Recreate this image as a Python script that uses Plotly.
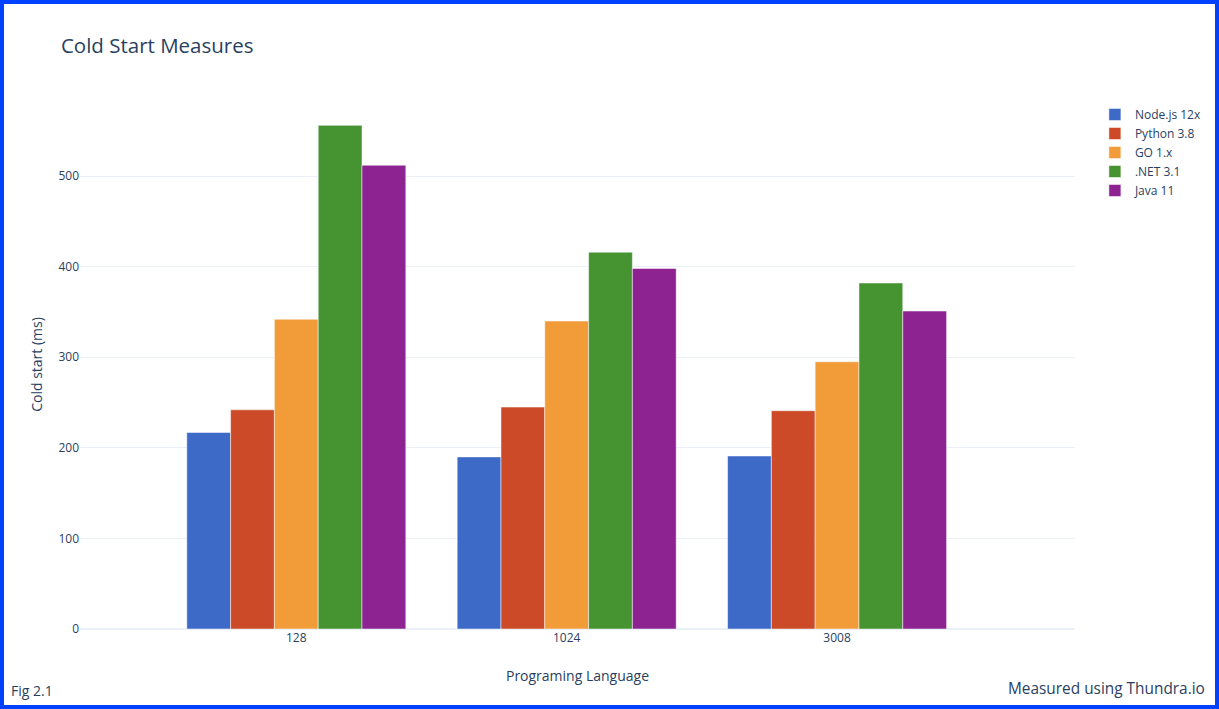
import plotly.graph_objects as go

categories = ["128", "1024", "3008"]
series_names = ["Node.js 12x", "Python 3.8", "GO 1.x", ".NET 3.1", "Java 11"]
nodejs = [217, 190, 191]
python = [242, 245, 241]
go_lang = [342, 340, 295]
dotnet = [556, 416, 382]
java = [512, 398, 351]
series_values = [nodejs, python, go_lang, dotnet, java]
colors = ["#3D69C7", "#CC4A27", "#F19C39", "#469332", "#8D2391"]

W, H = 1219, 709
ml, mr, mt, mb = 80, 144, 100, 80

fig = go.Figure()
for name, vals, col in zip(series_names, series_values, colors):
    fig.add_trace(go.Bar(x=categories, y=vals, name=name,
                         marker=dict(color=col, line=dict(color="white", width=0.5))))

pw = W - ml - mr
ph = H - mt - mb
inset = 2
x0 = (inset - ml) / pw
x1 = (W - inset - ml) / pw
y0 = -(mb - inset) / ph
y1 = (H - inset - mb) / ph

fig.update_layout(
    template="plotly_white",
    width=W, height=H,
    margin=dict(l=ml, r=mr, t=mt, b=mb),
    font=dict(family="Open Sans, Verdana, Arial, sans-serif"),
    title=dict(text="Cold Start Measures", x=0.05, y=1 - 46 / H, yanchor="middle",
               font=dict(size=20.5)),
    barmode="group",
    bargap=0.19,
    xaxis=dict(title=dict(text="Programing Language", standoff=26), type="category",
               range=[-0.8, 2.88]),
    yaxis=dict(title=dict(text="Cold start (ms)", standoff=12), range=[0, 584], dtick=100),
    annotations=[
        dict(text="Fig 2.1", xref="paper", yref="paper", x=(9 - ml) / pw,
             y=(H - 690 - mb) / ph, xanchor="left", yanchor="middle",
             showarrow=False, font=dict(size=14)),
        dict(text="Measured using Thundra.io", xref="paper", yref="paper",
             x=(1207 - ml) / pw, y=(H - 688 - mb) / ph, xanchor="right",
             yanchor="middle", showarrow=False, font=dict(size=15.4)),
    ],
    shapes=[dict(type="rect", xref="paper", yref="paper", x0=x0, x1=x1, y0=y0, y1=y1,
                 line=dict(color="#0040FF", width=4), layer="above")],
)

fig.write_html("out.html", config={"displayModeBar": False},
               post_script="document.body.style.margin='0';")
